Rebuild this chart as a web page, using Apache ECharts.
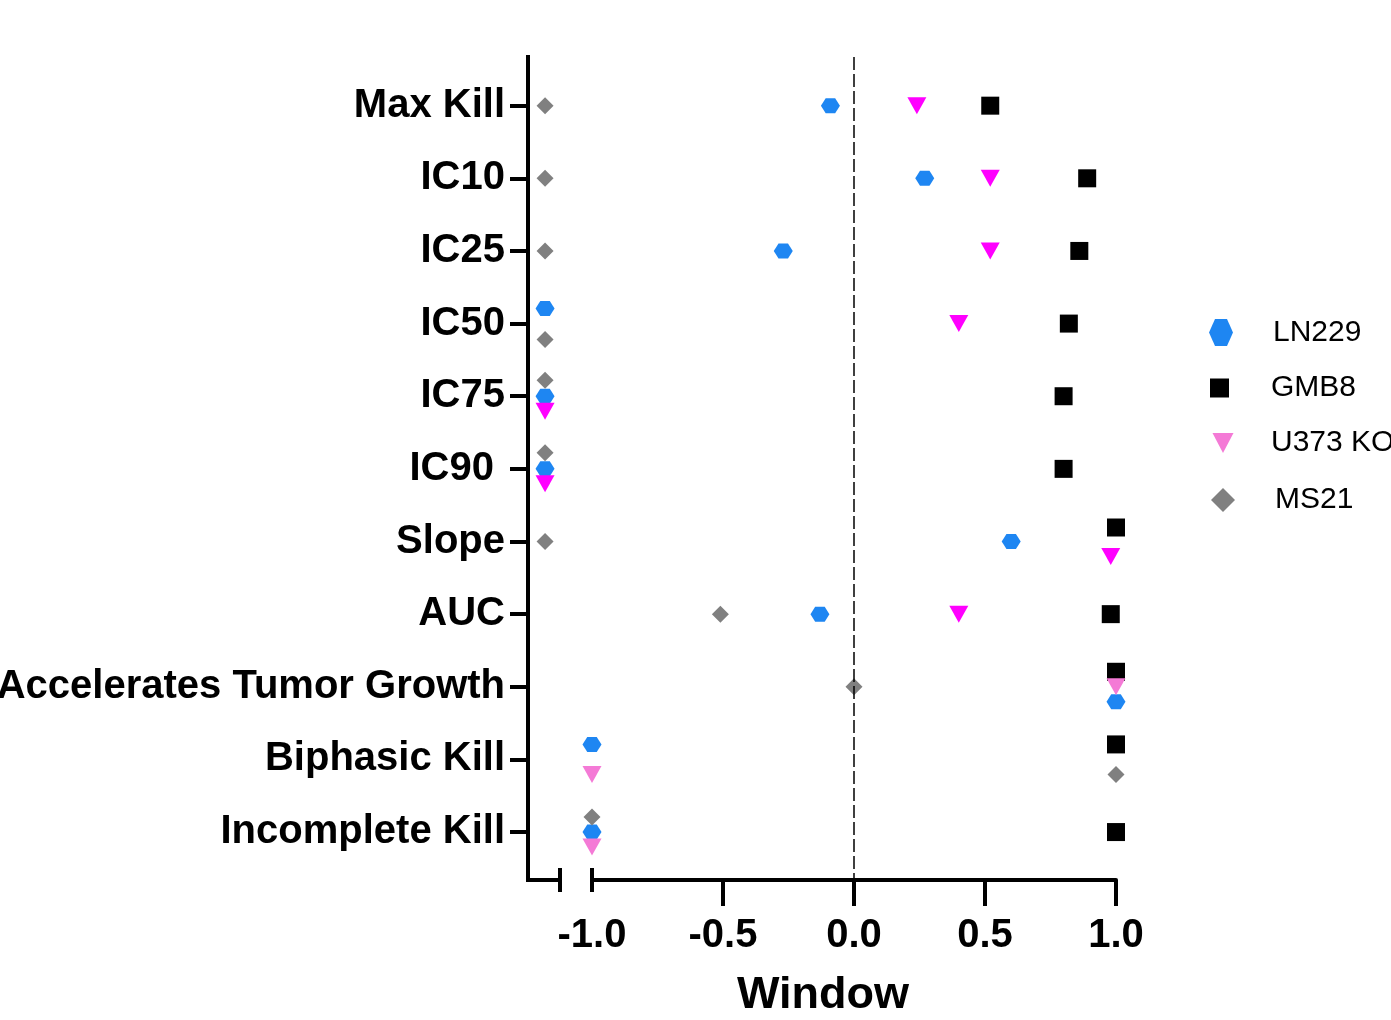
<!DOCTYPE html>
<html>
<head>
<meta charset="utf-8">
<title>Window</title>
<script src="https://cdn.jsdelivr.net/npm/echarts@6/dist/echarts.min.js"></script>
<style>
  html, body { margin: 0; padding: 0; background: #fff; }
  #main { width: 1391px; height: 1020px; }
</style>
</head>
<body>
<div id="main"></div>
<script>
var categories = ['Max Kill', 'IC10', 'IC25', 'IC50', 'IC75', 'IC90 ', 'Slope', 'AUC',
  'Accelerates Tumor Growth', 'Biphasic Kill', 'Incomplete Kill'];

// values left of the axis break (not reached / undefined)
var OFF = -1.18;

var ln229 = [-0.09, 0.27, -0.27, OFF, OFF, OFF, 0.60, -0.13, 1.0, -1.0, -1.0];
var gmb8  = [0.52, 0.89, 0.86, 0.82, 0.80, 0.80, 1.0, 0.98, 1.0, 1.0, 1.0];
var u373  = [0.24, 0.52, 0.52, 0.40, OFF, OFF, 0.98, 0.40, 1.0, -1.0, -1.0];
var ms21  = [OFF, OFF, OFF, OFF, OFF, OFF, OFF, -0.51, 0.0, 1.0, -1.0];

var xTicks = [-1.0, -0.5, 0.0, 0.5, 1.0];

// ---- styles ----
var FONT = "'Liberation Sans', Arial, Helvetica, sans-serif";
var HEX = 'path://M0,5L3,0L9,0L12,5L9,10L3,10Z';
var TRI_DOWN = 'path://M0,0L10,0L5,9Z';
var MAGENTA = '#ff00ff';
var PINK = '#f47ad6';

// vertical nudge (px) of overlapping points, per series and category index
var nudge = {
  'LN229':   { 3: -15, 8: 15, 9: -15 },
  'GMB8':    { 6: -14, 8: -15, 9: -15 },
  'U373 KO': { 4: 15, 5: 15, 6: 15, 9: 15, 10: 15 },
  'MS21':    { 3: 16, 4: -16, 5: -16, 9: 15, 10: -15 }
};
var pinkIdx = { 8: true, 9: true, 10: true };

var groups = [
  { name: 'LN229', values: ln229, color: '#1e86f2', symbol: HEX, size: [19, 15] },
  { name: 'GMB8', values: gmb8, color: '#000000', symbol: 'rect', size: [18, 18] },
  { name: 'U373 KO', values: u373, color: PINK, symbol: TRI_DOWN, size: [19, 17] },
  { name: 'MS21', values: ms21, color: '#808080', symbol: 'diamond', size: [17, 17] }
];

function buildData(g, offScale) {
  var out = [];
  g.values.forEach(function (v, i) {
    var isOff = v < -1.05;
    if (isOff !== offScale) return;
    var item = { value: [v, i], symbolOffset: [0, (nudge[g.name] && nudge[g.name][i]) || 0] };
    if (g.name === 'U373 KO' && !pinkIdx[i]) item.itemStyle = { color: MAGENTA };
    out.push(item);
  });
  return out;
}

var series = [];
groups.forEach(function (g) {
  var main = {
    name: g.name,
    type: 'scatter',
    xAxisIndex: 2,
    yAxisIndex: 1,
    symbol: g.symbol,
    symbolSize: g.size,
    clip: false,
    itemStyle: { color: g.color, opacity: 1 },
    data: buildData(g, false)
  };
  if (g.name === 'GMB8') {
    main.markLine = {
      silent: true,
      symbol: 'none',
      label: { show: false },
      lineStyle: { color: '#000', width: 1.5, type: [13, 4] },
      data: [{ xAxis: 0 }]
    };
  }
  series.push(main);
  series.push({
    name: g.name,
    type: 'scatter',
    xAxisIndex: 0,
    yAxisIndex: 0,
    symbol: g.symbol,
    symbolSize: g.size,
    clip: false,
    itemStyle: { color: g.color, opacity: 1 },
    data: buildData(g, true)
  });
});

function legendFor(name, icon, w, h, left, cy, pad) {
  return {
    data: [{ name: name, icon: icon }],
    left: left,
    top: cy - 15,
    orient: 'vertical',
    padding: 0,
    itemWidth: w,
    itemHeight: h,
    symbolKeepAspect: false,
    selectedMode: false,
    textStyle: { fontSize: 30, lineHeight: 30, color: '#000', fontFamily: FONT, padding: [0, 0, 0, pad] }
  };
}

var catIdx = categories.map(function (c, i) { return i; });
var axisLineStyle = { color: '#000', width: 4 };

var option = {
  animation: false,
  backgroundColor: '#fff',
  textStyle: { fontFamily: FONT },
  legend: [
    legendFor('LN229', HEX, 24, 27, 1209, 332.5, 35),
    legendFor('GMB8', 'rect', 19, 19, 1210, 388, 37),
    legendFor('U373 KO', TRI_DOWN, 21, 20, 1212.5, 443, 32.5),
    legendFor('MS21', 'diamond', 24, 24, 1211, 500, 35)
  ],
  grid: [
    { left: 528, width: 32, top: 57, bottom: 140, outerBoundsMode: 'none', containLabel: false },
    { left: 592, right: 275, top: 57, bottom: 140, outerBoundsMode: 'none', containLabel: false }
  ],
  xAxis: [{
    gridIndex: 0, type: 'value', min: -1.245, max: -1.123, position: 'bottom',
    axisLine: { onZero: false, lineStyle: { color: '#000', width: 4, cap: 'square' } },
    axisTick: { show: false }, axisLabel: { show: false }, splitLine: { show: false }
  }, {
    // break mark at the end of the off-scale segment
    gridIndex: 0, type: 'value', min: -1.245, max: -1.123, position: 'bottom', offset: -12,
    axisLine: { show: false, onZero: false },
    axisTick: { show: true, length: 24, customValues: [-1.123], lineStyle: axisLineStyle },
    axisLabel: { show: false }, splitLine: { show: false }
  }, {
    gridIndex: 1, type: 'value', min: -1, max: 1, interval: 0.5, position: 'bottom',
    axisLine: { onZero: false, lineStyle: axisLineStyle },
    axisTick: { show: true, length: 26, customValues: [-0.5, 0, 0.5, 1], lineStyle: axisLineStyle },
    axisLabel: {
      customValues: xTicks,
      formatter: function (v) { return v.toFixed(1); },
      fontSize: 40, fontWeight: 'bold', color: '#000', fontFamily: FONT, margin: 36
    },
    splitLine: { show: false },
    name: 'Window',
    nameLocation: 'middle',
    nameGap: 93,
    nameTextStyle: { fontSize: 45, fontWeight: 'bold', color: '#000', fontFamily: FONT, padding: [0, 62, 0, 0] }
  }, {
    // break mark at the start of the main segment
    gridIndex: 1, type: 'value', min: -1, max: 1, position: 'bottom', offset: -12,
    axisLine: { show: false, onZero: false },
    axisTick: { show: true, length: 24, customValues: [-1], lineStyle: axisLineStyle },
    axisLabel: { show: false }, splitLine: { show: false }
  }],
  yAxis: [{
    gridIndex: 0, type: 'value', inverse: true, min: -0.67, max: 10.66,
    axisLine: { show: true, onZero: false, lineStyle: { color: '#000', width: 4, cap: 'square' } },
    axisTick: { show: true, length: 18, customValues: catIdx, lineStyle: axisLineStyle },
    axisLabel: {
      customValues: catIdx,
      formatter: function (v) { return categories[Math.round(v)]; },
      fontSize: 40, fontWeight: 'bold', color: '#000', fontFamily: FONT, margin: 23
    },
    splitLine: { show: false }
  }, {
    gridIndex: 1, type: 'value', inverse: true, min: -0.67, max: 10.66, show: false,
    axisLine: { onZero: false }, splitLine: { show: false }
  }],
  series: series
};

var myChart = echarts.init(document.getElementById('main'));
myChart.setOption(option);
</script>
</body>
</html>
